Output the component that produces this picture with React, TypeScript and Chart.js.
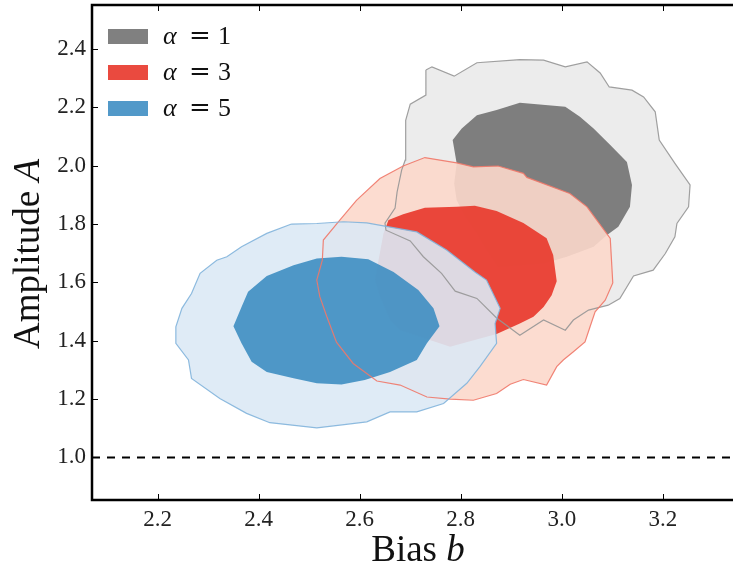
import React, { useEffect, useRef } from "react";
import { Chart, registerables } from "chart.js";

Chart.register(...registerables);

// Axis ranges and ticks
const xMin = 2.07;
const xMax = 3.339;
const yMin = 0.854;
const yMax = 2.551;
const xTicks = [2.2, 2.4, 2.6, 2.8, 3.0, 3.2];
const yTicks = [1.0, 1.2, 1.4, 1.6, 1.8, 2.0, 2.2, 2.4];
const refLineY = 1.0;

// Legend
const alphaValues = ["1", "3", "5"];

// Contours (bias b, amplitude A)
const alpha1Outer: [number, number][] = [
  [2.731, 2.328], [2.743, 2.339], [2.787, 2.307], [2.832, 2.353], [2.917, 2.364],
  [2.964, 2.362], [3.007, 2.339], [3.05, 2.356], [3.076, 2.318], [3.094, 2.27],
  [3.139, 2.259], [3.162, 2.236], [3.185, 2.185], [3.193, 2.088], [3.224, 2.008],
  [3.254, 1.934], [3.251, 1.859], [3.228, 1.802], [3.224, 1.756], [3.205, 1.699],
  [3.181, 1.642], [3.142, 1.622], [3.115, 1.545], [3.092, 1.522], [3.053, 1.505],
  [3.023, 1.471], [3.007, 1.436], [2.964, 1.471], [2.917, 1.419], [2.871, 1.478],
  [2.832, 1.545], [2.789, 1.57], [2.762, 1.631], [2.726, 1.688], [2.7, 1.742],
  [2.652, 1.779], [2.65, 1.803], [2.67, 1.855], [2.674, 1.91], [2.683, 1.985],
  [2.69, 2.019], [2.691, 2.156], [2.7, 2.211], [2.731, 2.242],
];
const alpha1Inner: [number, number][] = [
  [2.784, 2.088], [2.802, 2.128], [2.832, 2.173], [2.871, 2.191], [2.917, 2.216],
  [3.007, 2.202], [3.036, 2.168], [3.063, 2.128], [3.096, 2.071], [3.129, 2.013],
  [3.139, 1.934], [3.135, 1.859], [3.112, 1.791], [3.089, 1.762], [3.063, 1.722],
  [3.01, 1.688], [2.964, 1.665], [2.874, 1.653], [2.851, 1.711], [2.832, 1.768],
  [2.809, 1.825], [2.792, 1.882], [2.787, 1.939], [2.792, 2.008],
];
const alpha3Outer: [number, number][] = [
  [2.594, 1.882], [2.64, 1.956], [2.686, 1.999], [2.729, 2.028], [2.792, 2.01],
  [2.825, 1.996], [2.874, 1.999], [2.924, 1.974], [2.931, 1.96], [3.016, 1.905],
  [3.05, 1.859], [3.096, 1.751], [3.101, 1.598], [3.086, 1.539], [3.066, 1.499],
  [3.056, 1.448], [3.046, 1.396], [3.023, 1.362], [3.003, 1.334], [2.99, 1.311],
  [2.97, 1.248], [2.924, 1.267], [2.898, 1.251], [2.871, 1.219], [2.825, 1.196],
  [2.779, 1.2], [2.733, 1.207], [2.68, 1.248], [2.634, 1.262], [2.587, 1.322],
  [2.554, 1.395], [2.535, 1.482], [2.521, 1.551], [2.515, 1.608], [2.526, 1.676],
  [2.528, 1.745], [2.561, 1.814],
];
const alpha3Inner: [number, number][] = [
  [2.657, 1.814], [2.686, 1.834], [2.729, 1.856], [2.792, 1.859], [2.828, 1.863],
  [2.871, 1.845], [2.924, 1.804], [2.97, 1.751], [2.983, 1.694], [2.99, 1.604],
  [2.98, 1.556], [2.964, 1.516], [2.944, 1.482], [2.917, 1.459], [2.871, 1.423],
  [2.779, 1.379], [2.68, 1.436], [2.66, 1.471], [2.64, 1.551], [2.63, 1.608],
  [2.647, 1.768],
];
const alpha5Outer: [number, number][] = [
  [2.465, 1.8], [2.515, 1.802], [2.568, 1.808], [2.614, 1.804], [2.713, 1.773],
  [2.772, 1.711], [2.828, 1.636], [2.851, 1.608], [2.878, 1.511], [2.868, 1.459],
  [2.871, 1.391], [2.838, 1.311], [2.812, 1.254], [2.766, 1.185], [2.713, 1.156],
  [2.66, 1.156], [2.614, 1.122], [2.561, 1.111], [2.515, 1.101], [2.422, 1.119],
  [2.376, 1.151], [2.323, 1.202], [2.267, 1.271], [2.261, 1.334], [2.236, 1.391],
  [2.236, 1.448], [2.248, 1.511], [2.267, 1.562], [2.284, 1.631], [2.317, 1.676],
  [2.337, 1.688], [2.366, 1.722], [2.416, 1.768],
];
const alpha5Inner: [number, number][] = [
  [2.416, 1.622], [2.469, 1.659], [2.515, 1.682], [2.564, 1.688], [2.617, 1.679],
  [2.667, 1.636], [2.716, 1.574], [2.746, 1.511], [2.758, 1.45], [2.733, 1.391],
  [2.713, 1.334], [2.66, 1.293], [2.61, 1.265], [2.564, 1.25], [2.515, 1.254],
  [2.469, 1.271], [2.416, 1.293], [2.386, 1.328], [2.366, 1.391], [2.35, 1.45],
  [2.366, 1.516], [2.379, 1.568],
];

const closed = (arr: [number, number][]) => {
  const pts = arr.map(([x, y]) => ({ x, y }));
  pts.push({ x: arr[0][0], y: arr[0][1] });
  return pts;
};

const SERIF = "'Liberation Serif', 'DejaVu Serif', serif";

const fillSet = (label: string, arr: [number, number][], color: string, order: number) => ({
  label,
  data: closed(arr),
  showLine: true,
  fill: "shape",
  backgroundColor: color,
  borderColor: "rgba(0,0,0,0)",
  borderWidth: 0,
  pointRadius: 0,
  tension: 0,
  order,
});

const lineSet = (label: string, arr: [number, number][], color: string, order: number) => ({
  label,
  data: closed(arr),
  showLine: true,
  fill: false,
  borderColor: color,
  borderWidth: 1.2,
  pointRadius: 0,
  tension: 0,
  order,
});

const legendColors = ["#808080", "#ea4a3f", "#5299c9"];

const decor = {
  id: "decor",
  afterDraw(chart: any) {
    const { ctx, chartArea: a, scales } = chart;
    const x = scales.x;
    const y = scales.y;
    const W = chart.width;
    ctx.save();
    // spines
    ctx.strokeStyle = "#000";
    ctx.lineWidth = 2.5;
    ctx.beginPath();
    ctx.moveTo(W, a.top);
    ctx.lineTo(a.left, a.top);
    ctx.lineTo(a.left, a.bottom);
    ctx.lineTo(W, a.bottom);
    ctx.stroke();
    // inward ticks
    ctx.lineWidth = 1;
    ctx.beginPath();
    xTicks.forEach((v) => {
      const px = Math.round(x.getPixelForValue(v)) + 0.5;
      ctx.moveTo(px, a.bottom);
      ctx.lineTo(px, a.bottom - 6);
      ctx.moveTo(px, a.top);
      ctx.lineTo(px, a.top + 6);
    });
    yTicks.forEach((v) => {
      const py = Math.round(y.getPixelForValue(v)) + 0.5;
      ctx.moveTo(a.left, py);
      ctx.lineTo(a.left + 6, py);
    });
    ctx.stroke();

    // axis titles
    ctx.fillStyle = "#111";
    ctx.textBaseline = "alphabetic";
    const fsz = 37;
    const normal = `${fsz}px ${SERIF}`;
    const ital = `italic ${fsz}px ${SERIF}`;
    const drawMixed = (cx: number, cy: number, parts: [string, string][]) => {
      let total = 0;
      parts.forEach(([t, f]) => {
        ctx.font = f;
        total += ctx.measureText(t).width;
      });
      let cur = cx - total / 2;
      ctx.textAlign = "left";
      parts.forEach(([t, f]) => {
        ctx.font = f;
        ctx.fillText(t, cur, cy);
        cur += ctx.measureText(t).width;
      });
    };
    drawMixed(418, 561, [["Bias ", normal], ["b", ital]]);
    ctx.save();
    ctx.translate(39, 254);
    ctx.rotate(-Math.PI / 2);
    drawMixed(0, 0, [["Amplitude ", normal], ["A", ital]]);
    ctx.restore();

    // legend
    const lf = 26;
    alphaValues.forEach((v, i) => {
      const top = 29 + i * 36;
      ctx.fillStyle = legendColors[i];
      ctx.fillRect(108, top, 40, 15);
      ctx.fillStyle = "#111";
      ctx.textAlign = "left";
      ctx.font = `italic ${lf}px ${SERIF}`;
      ctx.fillText("\u03b1", 163, top + 15);
      ctx.font = `${lf}px 'DejaVu Serif', serif`;
      ctx.fillText("=", 189, top + 15);
      ctx.font = `${lf}px ${SERIF}`;
      ctx.fillText(v, 218, top + 15);
    });
    ctx.restore();
  },
};

export default function App() {
  const ref = useRef<HTMLCanvasElement | null>(null);
  useEffect(() => {
    if (!ref.current) return;
    const chart = new Chart(ref.current, {
      type: "scatter",
      data: {
        datasets: [
          fillSet("α = 1 (95%)", alpha1Outer, "rgba(234,234,234,0.9)", 20),
          fillSet("α = 1 (68%)", alpha1Inner, "rgba(114,114,114,0.9)", 19),
          fillSet("α = 3 (95%)", alpha3Outer, "rgba(252,216,203,0.9)", 18),
          fillSet("α = 3 (68%)", alpha3Inner, "rgba(232,54,42,0.9)", 17),
          fillSet("α = 5 (95%)", alpha5Outer, "rgba(219,233,245,0.9)", 16),
          fillSet("α = 5 (68%)", alpha5Inner, "rgba(62,142,194,0.9)", 15),
          lineSet("α = 1 edge", alpha1Outer, "rgba(150,150,150,0.9)", 14),
          lineSet("α = 3 edge", alpha3Outer, "rgba(240,120,105,0.9)", 13),
          lineSet("α = 5 edge", alpha5Outer, "rgba(130,180,220,0.9)", 12),
          {
            label: "A = 1",
            data: [
              { x: xMin, y: refLineY },
              { x: xMax, y: refLineY },
            ],
            showLine: true,
            fill: false,
            borderColor: "#000",
            borderWidth: 2,
            borderDash: [8, 7],
            pointRadius: 0,
            order: 1,
          },
        ] as any,
      },
      options: {
        animation: false,
        responsive: false,
        devicePixelRatio: 1,
        layout: { padding: { top: 5, right: 0, left: 0, bottom: 0 } },
        plugins: {
          legend: { display: false },
          tooltip: { enabled: false },
        },
        scales: {
          x: {
            type: "linear",
            min: xMin,
            max: xMax,
            grid: { display: false, drawTicks: false, tickLength: 0 },
            border: { display: false },
            afterBuildTicks: (axis: any) => {
              axis.ticks = xTicks.map((v) => ({ value: v }));
            },
            afterFit: (axis: any) => {
              axis.height = 69;
              axis.paddingLeft = 0;
              axis.paddingRight = 0;
            },
            ticks: {
              padding: 6,
              color: "#222",
              font: { family: SERIF, size: 23 },
              maxRotation: 0,
              callback: (v: any) => Number(v).toFixed(1),
            },
          },
          y: {
            type: "linear",
            min: yMin,
            max: yMax,
            grid: { display: false, drawTicks: false, tickLength: 0 },
            border: { display: false },
            afterBuildTicks: (axis: any) => {
              axis.ticks = yTicks.map((v) => ({ value: v }));
            },
            afterFit: (axis: any) => {
              axis.width = 92;
              axis.paddingTop = 0;
              axis.paddingBottom = 0;
            },
            ticks: {
              padding: 6,
              color: "#222",
              font: { family: SERIF, size: 23 },
              callback: (v: any) => Number(v).toFixed(1),
            },
          },
        },
      },
      plugins: [decor],
    });
    return () => chart.destroy();
  }, []);
  return (
    <div style={{ position: "absolute", left: 0, top: 0, width: 733, height: 569, overflow: "hidden" }}>
      <canvas ref={ref} width={733} height={569} style={{ display: "block" }} />
    </div>
  );
}
